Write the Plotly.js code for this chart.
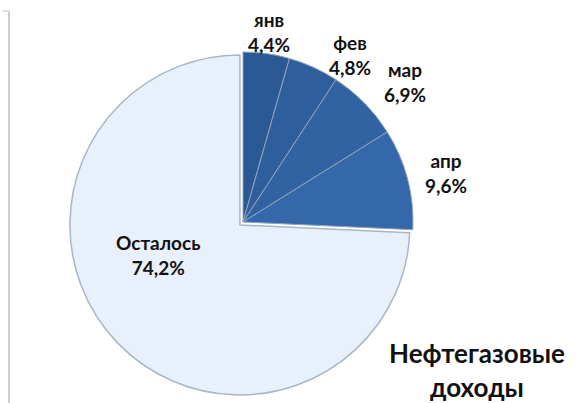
<!DOCTYPE html>
<html>
<head>
<meta charset="utf-8">
<script src="https://cdn.plot.ly/plotly-3.0.1.min.js"></script>
<style>html,body{margin:0;padding:0;background:#fff;}#chart{width:578px;height:403px;}</style>
</head>
<body>
<div id="chart"></div>
<script>
var labels = ['янв', 'фев', 'мар', 'апр', 'Осталось'];
var values = [4.4, 4.8, 6.9, 9.6, 74.2];
var chartTitle = 'Нефтегазовые<br>доходы';

// styling / placement (not data)
var sliceColors = ['#2b5993', '#2e5e9b', '#3163a2', '#3468aa', '#e7f0fb'];
var pulls = [0, 0, 0, 0, 0.025];
var labelRadius = [1.127, 1.167, 1.26, 1.23, 0.535];
var labelAngleShift = [0, 8, 3.7, 1.2, 22.4];

var W = 578, H = 403;
var cx = 243, cy = 222, r = 170;
var R = r * (1 + Math.max.apply(null, pulls));

var trace = {
  type: 'pie',
  labels: labels,
  values: values,
  sort: false,
  direction: 'clockwise',
  rotation: 0,
  pull: pulls,
  marker: {
    colors: sliceColors,
    line: {color: ['#8fa3bd', '#8fa3bd', '#8fa3bd', '#8fa3bd', '#a9b6c4'], width: [1, 1, 1, 1, 1.5]}
  },
  textinfo: 'none',
  hoverinfo: 'none',
  showlegend: false,
  domain: {
    x: [(cx - R) / W, (cx + R) / W],
    y: [(H - cy - R) / H, (H - cy + R) / H]
  }
};

var total = values.reduce(function (a, b) { return a + b; }, 0);
var annotations = [];
var cum = 0;
var fmt = function (v) { return v.toFixed(1).replace('.', ',') + '%'; };
for (var i = 0; i < values.length; i++) {
  var mid = (cum + values[i] / 2) / total * 360 + labelAngleShift[i];
  cum += values[i];
  var a = mid * Math.PI / 180;
  var px = cx + labelRadius[i] * r * Math.sin(a);
  var py = cy - labelRadius[i] * r * Math.cos(a);
  annotations.push({
    xref: 'paper', yref: 'paper', x: px / W, y: 1 - py / H,
    xanchor: 'center', yanchor: 'middle', showarrow: false,
    text: labels[i] + '<br>' + fmt(values[i]),
    font: {family: 'Lato, "Open Sans", sans-serif', size: 19, color: '#111111', weight: 'bold'}
  });
}
annotations.push({
  xref: 'paper', yref: 'paper', x: 477 / W, y: 1 - 370 / H,
  xanchor: 'center', yanchor: 'middle',
  text: chartTitle, showarrow: false,
  font: {family: 'Lato, "Open Sans", sans-serif', size: 26, color: '#111111', weight: 'bold'}
});

var layout = {
  width: W, height: H,
  margin: {l: 0, r: 0, t: 0, b: 0},
  paper_bgcolor: '#ffffff',
  showlegend: false,
  annotations: annotations,
  shapes: [
    {type: 'line', xref: 'paper', yref: 'paper', x0: 9 / W, x1: 9 / W, y0: 0, y1: 1 - 11 / H, line: {color: '#bdbdbd', width: 1.5}},
    {type: 'line', xref: 'paper', yref: 'paper', x0: 3 / W, x1: 9 / W, y0: 1 - 11 / H, y1: 1 - 11 / H, line: {color: '#e0e0e0', width: 2}}
  ]
};

Plotly.newPlot('chart', [trace], layout, {displayModeBar: false, staticPlot: true});
</script>
</body>
</html>
